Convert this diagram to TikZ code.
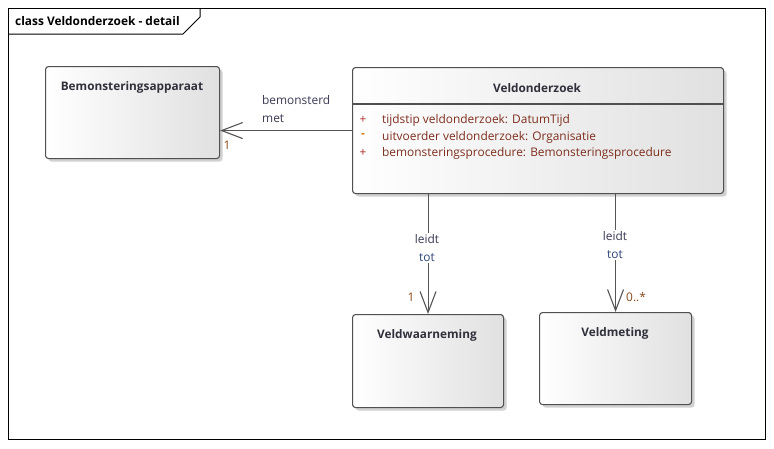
\documentclass[tikz,border=0pt]{standalone}
\usepackage{fontspec}
\setmainfont{Open Sans}
\usetikzlibrary{shadows,arrows.meta}
\definecolor{bordc}{HTML}{505050}
\definecolor{linec}{HTML}{555555}
\definecolor{namec}{HTML}{30303C}
\definecolor{attrc}{HTML}{7E2F1E}
\definecolor{plusc}{HTML}{B0302A}
\definecolor{minusc}{HTML}{D07A1E}
\definecolor{labc}{HTML}{3A3A55}
\definecolor{totc}{HTML}{2E4478}
\definecolor{multc}{HTML}{8A4A1C}
\tikzset{
  clsbox/.style={draw=bordc, line width=1.1pt, rounded corners=3pt, anchor=north west,
    left color=white, right color=black!12, inner sep=0pt,
    drop shadow={shadow xshift=3pt, shadow yshift=-3pt, fill=black, opacity=0.18}},
  clsname/.style={font=\fontsize{11.8}{13}\selectfont\bfseries, text=namec, inner sep=0pt},
  attr/.style={font=\fontsize{11.9}{13}\selectfont, text=attrc, anchor=west, inner sep=0pt},
  vis/.style={font=\fontsize{11.9}{13}\selectfont, inner sep=0pt},
  asc/.style={draw=linec, line width=1.1pt, -{Straight Barb[length=21pt, width=16pt, line width=1.1pt]}},
  alab/.style={font=\fontsize{11.9}{18}\selectfont, fill=white, inner sep=1pt, align=center},
  mult/.style={font=\fontsize{11.9}{13}\selectfont, text=multc, inner sep=0pt},
}
\begin{document}
\begin{tikzpicture}[x=1pt,y=-1pt]
\useasboundingbox (0,0) rectangle (774,448);
\fill[white] (0,0) rectangle (774,448);
% frame
\draw[black, line width=1pt] (8,8) rectangle (765,439);
\draw[black, line width=1pt] (8,34) -- (183,34) -- (200,17) -- (200,8);
\node[font=\fontsize{11.9}{13}\selectfont\bfseries, anchor=west, inner sep=0pt, text=black] (ftitle) at (15,21) {class Veldonderzoek - detail};
% boxes
\node[clsbox, minimum width=174pt, minimum height=92pt] (bem) at (45,66) {};
\node[clsname] (bemt) at (132,87) {Bemonsteringsapparaat};
\node[clsbox, minimum width=371pt, minimum height=126pt] (vo) at (352,67) {};
\draw[bordc, line width=1.1pt] (vo.west |- 0,104) -- (vo.east |- 0,104);
\node[clsname] (vot) at (537,88) {Veldonderzoek};
\node[vis, text=plusc] (v1) at (363,120) {+};
\node[vis, text=minusc] (v2) at (363,136) {\bfseries -};
\node[vis, text=plusc] (v3) at (363,153) {+};
\node[attr] (a1) at (382,120) {tijdstip veldonderzoek: DatumTijd};
\node[attr] (a2) at (382,137) {uitvoerder veldonderzoek: Organisatie};
\node[attr] (a3) at (382,153) {bemonsteringsprocedure: Bemonsteringsprocedure};
\node[clsbox, minimum width=151pt, minimum height=93pt] (vw) at (352,314) {};
\node[clsname] (vwt) at (427,335) {Veldwaarneming};
\node[clsbox, minimum width=152pt, minimum height=92pt] (vm) at (539,312) {};
\node[clsname] (vmt) at (615,333) {Veldmeting};
% connectors
\draw[asc] (vo.west) -- (vo.west -| bem.east);
\draw[asc] (vw.north |- vo.south) -- (vw.north);
\draw[asc] (vm.north |- vo.south) -- (vm.north);
% labels
\node[alab, anchor=west, align=left, text=labc] (l1) at (261,109) {bemonsterd\\met};
\node[mult] (m1) at (227,145) {1};
\node[alab] (l2) at (427,248) {\textcolor{labc}{leidt}\\\textcolor{totc}{tot}};
\node[alab] (l3) at (615,245) {\textcolor{labc}{leidt}\\\textcolor{totc}{tot}};
\node[mult] (m2) at (411,297) {1};
\node[mult, anchor=west] (m3) at (626,297) {0..*};
\end{tikzpicture}
\end{document}
